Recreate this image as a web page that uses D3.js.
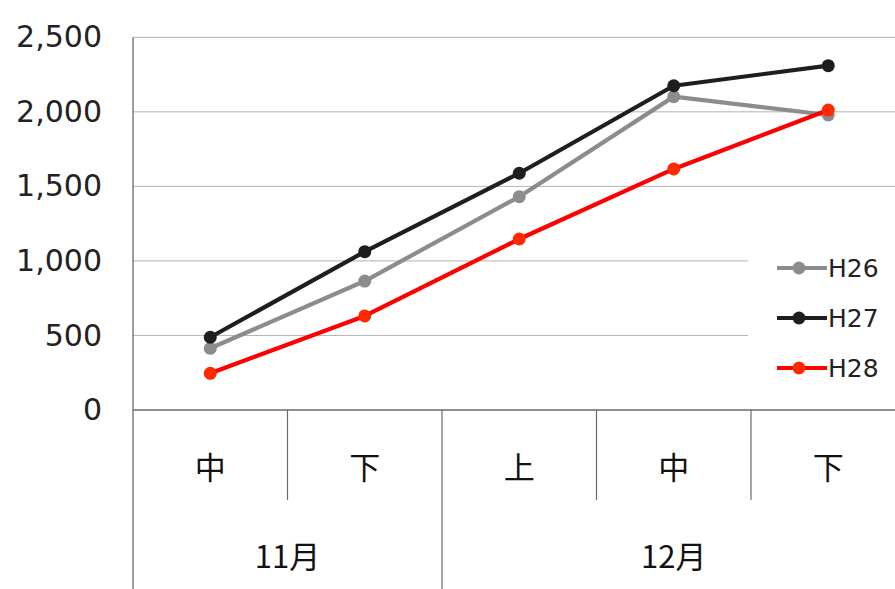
<!DOCTYPE html>
<html>
<head>
<meta charset="utf-8">
<script src="https://cdn.jsdelivr.net/npm/d3@7"></script>
<style>
  html, body { margin: 0; padding: 0; background: #fff; }
  svg { display: block; }
</style>
</head>
<body>
<svg id="chart" width="895" height="589"></svg>
<script>
// Ten-day periods (旬) and the month each belongs to
const periods = ["中", "下", "上", "中", "下"];
const months = [
  { label: "11月", span: 2 },
  { label: "12月", span: 3 }
];
const yTicks = [0, 500, 1000, 1500, 2000, 2500];

const seriesNames = ["H26", "H27", "H28"];
const h26 = [414, 865, 1431, 2102, 1979];
const h27 = [488, 1062, 1588, 2175, 2310];
const h28 = [246, 631, 1147, 1617, 2012];
const colors = ["#8c8c8c", "#1e1e1e", "#ff0000"];
const markerColors = ["#8c8c8c", "#1e1e1e", "#ff2a00"];

(function draw() {
  const svg = d3.select("#chart");
  const plotLeft = 133, plotRight = 905.5, plotTop = 37.3, plotBottom = 410;

  const x = d3.scaleBand().domain(d3.range(periods.length)).range([plotLeft, plotRight]);
  const y = d3.scaleLinear().domain([0, 2500]).range([plotBottom, plotTop]);

  const fontNum = "'DejaVu Sans', sans-serif";
  const fontCJK = "'Noto Sans CJK JP', sans-serif";

  // Horizontal gridlines
  svg.append("g")
    .selectAll("line")
    .data(yTicks.filter(d => d > 0))
    .join("line")
    .attr("x1", plotLeft).attr("x2", 895)
    .attr("y1", d => y(d)).attr("y2", d => y(d))
    .attr("stroke", "#b4b4b4").attr("stroke-width", 1);

  // Y axis labels
  const yAxis = svg.append("g")
    .attr("transform", `translate(${plotLeft},0)`)
    .call(d3.axisLeft(y).tickValues(yTicks).tickSize(0).tickPadding(31)
      .tickFormat(d3.format(",")));
  yAxis.select(".domain").remove();
  yAxis.selectAll("text")
    .attr("font-family", fontNum)
    .attr("font-size", 30)
    .attr("fill", "#222");

  // Axis lines
  svg.append("line")
    .attr("x1", plotLeft).attr("x2", plotLeft).attr("y1", plotTop).attr("y2", 589)
    .attr("stroke", "#6a6a6a").attr("stroke-width", 1.3);
  svg.append("line")
    .attr("x1", plotLeft).attr("x2", 895).attr("y1", plotBottom).attr("y2", plotBottom)
    .attr("stroke", "#6a6a6a").attr("stroke-width", 1.3);

  // Category separators: short ones between periods, long ones between months
  let idx = 0;
  const monthBounds = [0];
  months.forEach(m => { idx += m.span; monthBounds.push(idx); });
  d3.range(1, periods.length).forEach(i => {
    const isMonth = monthBounds.includes(i);
    svg.append("line")
      .attr("x1", x(i)).attr("x2", x(i))
      .attr("y1", plotBottom).attr("y2", isMonth ? 589 : 500)
      .attr("stroke", "#6a6a6a").attr("stroke-width", 1.2);
  });

  // Period labels
  svg.append("g")
    .selectAll("text")
    .data(periods)
    .join("text")
    .attr("x", (d, i) => x(i) + x.bandwidth() / 2)
    .attr("y", 465)
    .attr("text-anchor", "middle")
    .attr("dominant-baseline", "central")
    .attr("font-family", fontCJK)
    .attr("font-size", 31)
    .attr("fill", "#111")
    .text(d => d);

  // Month labels
  svg.append("g")
    .selectAll("text")
    .data(months)
    .join("text")
    .attr("x", (d, i) => {
      const a = monthBounds[i], b = monthBounds[i + 1];
      return (x(a) + x(b - 1) + x.bandwidth()) / 2;
    })
    .attr("y", 554)
    .attr("text-anchor", "middle")
    .attr("dominant-baseline", "central")
    .attr("font-family", fontCJK)
    .attr("font-size", 31)
    .attr("fill", "#111")
    .text(d => d.label);

  // Legend background hides gridlines behind it
  svg.append("rect")
    .attr("x", 748).attr("y", 240).attr("width", 147).attr("height", 155)
    .attr("fill", "#fff");

  // Lines and markers
  const allSeries = [h26, h27, h28];
  const line = d3.line()
    .x((d, i) => x(i) + x.bandwidth() / 2)
    .y(d => y(d));

  allSeries.forEach((vals, s) => {
    svg.append("path")
      .datum(vals)
      .attr("d", line)
      .attr("fill", "none")
      .attr("stroke", colors[s])
      .attr("stroke-width", 4.2)
      .attr("stroke-linejoin", "round");
    svg.append("g")
      .selectAll("circle")
      .data(vals)
      .join("circle")
      .attr("cx", (d, i) => x(i) + x.bandwidth() / 2)
      .attr("cy", d => y(d))
      .attr("r", 6.5)
      .attr("fill", markerColors[s]);
  });

  // Legend
  const legend = svg.append("g");
  seriesNames.forEach((name, s) => {
    const ly = 268 + s * 50;
    legend.append("line")
      .attr("x1", 777).attr("x2", 827).attr("y1", ly).attr("y2", ly)
      .attr("stroke", colors[s]).attr("stroke-width", 4.2);
    legend.append("circle")
      .attr("cx", 799).attr("cy", ly).attr("r", 6.5)
      .attr("fill", markerColors[s]);
    legend.append("text")
      .attr("x", 828).attr("y", ly)
      .attr("dominant-baseline", "central")
      .attr("font-family", fontNum)
      .attr("font-size", 25)
      .attr("fill", "#222")
      .text(name);
  });
})();
</script>
</body>
</html>
